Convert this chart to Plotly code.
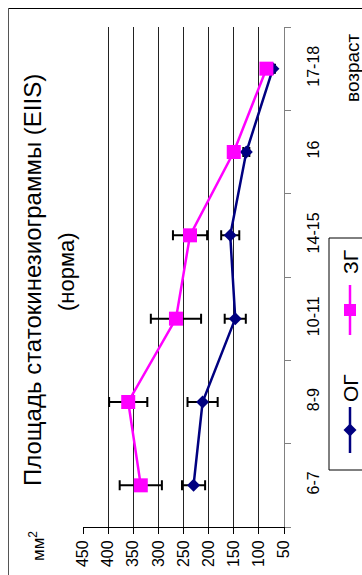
import plotly.graph_objects as go

categories = ['6-7', '8-9', '10-11', '14-15', '16', '17-18']
og_values = [230, 212, 147, 157, 125, 72]
og_errors = [23, 30, 21, 18, 6, 4]
zg_values = [335, 360, 265, 237, 150, 85]
zg_errors = [42, 38, 50, 34, 8, 5]
value_ticks = [450, 400, 350, 300, 250, 200, 150, 100, 50]

W, H = 362, 575
L, R, T, B = 83, 284, 27, 527
FONT = "Liberation Sans, Arial, sans-serif"


def px(x):
    return (x - L) / (R - L)


def py(y):
    return (B - y) / (B - T)


fig = go.Figure()
fig.add_trace(go.Scatter(
    x=og_values, y=categories, mode='lines+markers', name='ОГ',
    line=dict(color='#000080', width=2.5),
    marker=dict(symbol='diamond', size=10, color='#000080'),
    error_x=dict(type='data', array=og_errors, color='black', thickness=2, width=5),
    showlegend=False, cliponaxis=False,
))
fig.add_trace(go.Scatter(
    x=zg_values, y=categories, mode='lines+markers', name='ЗГ',
    line=dict(color='#FF00FF', width=2.5),
    marker=dict(symbol='square', size=14, color='#FF00FF'),
    error_x=dict(type='data', array=zg_errors, color='black', thickness=2, width=5),
    showlegend=False, cliponaxis=False,
))

shapes = []
annotations = []

# outer frame (top and left visible)
shapes.append(dict(type='line', xref='paper', yref='paper', x0=px(8), x1=px(370), y0=py(8.5), y1=py(8.5),
                   line=dict(color='black', width=1)))
shapes.append(dict(type='line', xref='paper', yref='paper', x0=px(8.5), x1=px(8.5), y0=py(8), y1=py(580),
                   line=dict(color='#555', width=1)))

# legend box
shapes.append(dict(type='rect', xref='paper', yref='paper', x0=px(329), x1=px(375), y0=py(238), y1=py(470),
                   line=dict(color='black', width=1), fillcolor='white'))
# ЗГ entry
shapes.append(dict(type='line', xref='paper', yref='paper', x0=px(350), x1=px(350), y0=py(285), y1=py(335),
                   line=dict(color='#FF00FF', width=2.5)))
shapes.append(dict(type='rect', xref='paper', yref='paper', x0=px(344), x1=px(356), y0=py(304), y1=py(316),
                   line=dict(width=0), fillcolor='#FF00FF'))
# ОГ entry
shapes.append(dict(type='line', xref='paper', yref='paper', x0=px(350), x1=px(350), y0=py(407), y1=py(453),
                   line=dict(color='#000080', width=2.5)))
dx, dy = 6.5 / (R - L), 6.5 / (B - T)
cx, cy = px(350), py(430)
shapes.append(dict(type='path', xref='paper', yref='paper',
                   path=f'M {cx-dx},{cy} L {cx},{cy+dy} L {cx+dx},{cy} L {cx},{cy-dy} Z',
                   line=dict(width=0), fillcolor='#000080'))

annotations.append(dict(text='ЗГ', xref='paper', yref='paper', x=px(350), y=py(262), showarrow=False,
                        textangle=-90, xanchor='center', yanchor='middle',
                        font=dict(family=FONT, size=21, color='black')))
annotations.append(dict(text='ОГ', xref='paper', yref='paper', x=px(350), y=py(388), showarrow=False,
                        textangle=-90, xanchor='center', yanchor='middle',
                        font=dict(family=FONT, size=21, color='black')))

# titles
annotations.append(dict(text='Площадь статокинезиограммы (EIIS)', xref='paper', yref='paper',
                        x=px(32), y=py(280), showarrow=False, textangle=-90,
                        xanchor='center', yanchor='middle',
                        font=dict(family=FONT, size=24, color='black')))
annotations.append(dict(text='(норма)', xref='paper', yref='paper',
                        x=px(66), y=py(272), showarrow=False, textangle=-90,
                        xanchor='center', yanchor='middle',
                        font=dict(family=FONT, size=22, color='black')))
annotations.append(dict(text='мм<sup>2</sup>', xref='paper', yref='paper',
                        x=px(37), y=py(546), showarrow=False, textangle=-90,
                        xanchor='center', yanchor='middle',
                        font=dict(family=FONT, size=17, color='black')))
annotations.append(dict(text='возраст', xref='paper', yref='paper',
                        x=px(353), y=py(68), showarrow=False, textangle=-90,
                        xanchor='center', yanchor='middle',
                        font=dict(family=FONT, size=19, color='black')))

fig.update_layout(
    width=W, height=H,
    margin=dict(l=L, r=W - R, t=T, b=H - B, pad=0, autoexpand=False),
    paper_bgcolor='white', plot_bgcolor='white',
    shapes=shapes, annotations=annotations,
    showlegend=False,
    font=dict(family=FONT, color='black'),
    xaxis=dict(
        range=[450, 50], tickvals=value_ticks, ticktext=[str(v) for v in value_ticks],
        showgrid=True, gridcolor='#222', gridwidth=1, zeroline=False,
        showline=True, linecolor='black', linewidth=1, automargin=False,
        ticks='outside', ticklen=6, tickcolor='black', tickangle=-90,
        tickfont=dict(family=FONT, size=16, color='black'),
    ),
    yaxis=dict(
        type='category', categoryorder='array', categoryarray=categories,
        range=[-0.5, 5.5], side='right', showgrid=False, zeroline=False,
        showline=True, linecolor='#808080', linewidth=1, automargin=False,
        ticks='outside', ticklen=6, tickcolor='#808080', tickson='boundaries',
        tickangle=-90, ticklabelstandoff=15,
        tickfont=dict(family=FONT, size=16, color='black'),
    ),
)

fig.write_html('out.html', config={'displayModeBar': False},
               post_script="document.body.style.margin='0';document.body.style.overflow='hidden';")
